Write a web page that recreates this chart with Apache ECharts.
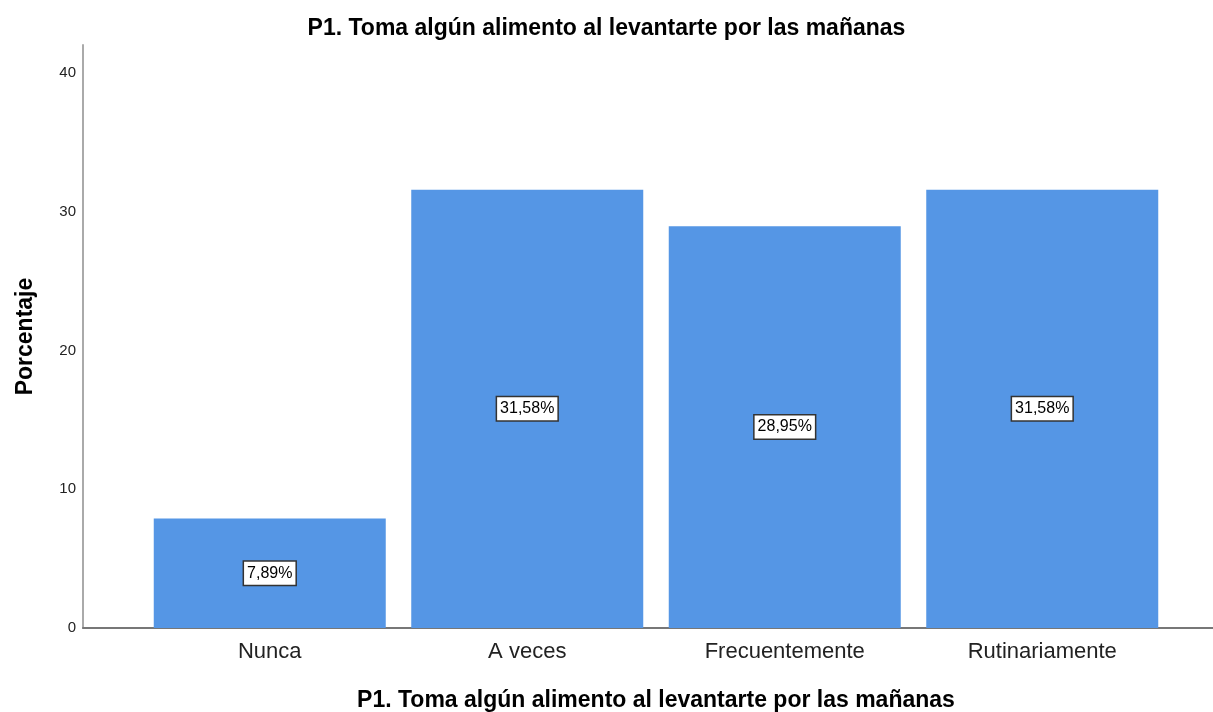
<!DOCTYPE html>
<html>
<head>
<meta charset="utf-8">
<style>
  html, body { margin: 0; padding: 0; background: #fff; }
  #chart { width: 1213px; height: 712px; }
</style>
<script src="https://cdn.jsdelivr.net/npm/echarts@6/dist/echarts.min.js"></script>
</head>
<body>
<div id="chart"></div>
<script>
// datos
var categorias = ['Nunca', 'A veces', 'Frecuentemente', 'Rutinariamente'];
var porcentajes = [7.89, 31.58, 28.95, 31.58];
var titulo = 'P1. Toma algún alimento al levantarte por las mañanas';

var fuente = '"Liberation Sans", Arial, sans-serif';
var myChart = echarts.init(document.getElementById('chart'));

myChart.setOption({
    animation: false,
    title: {
        text: titulo,
        left: 'center',
        top: 12,
        textStyle: { fontFamily: fuente, fontSize: 23, fontWeight: 'bold', color: '#000' }
    },
    // grid 0: barras, grid 1: lineas de ejes
    grid: [
        { left: 141, right: 42, top: 45, bottom: 84, outerBoundsMode: 'none', containLabel: false },
        { left: 83, right: 0, top: 45, bottom: 84, outerBoundsMode: 'none', containLabel: false }
    ],
    xAxis: [{
        type: 'category',
        gridIndex: 0,
        data: categorias,
        axisLine: { show: false },
        axisTick: { show: false },
        axisLabel: { fontFamily: fuente, fontSize: 22, color: '#222', margin: 13 }
    }, {
        type: 'value',
        gridIndex: 1,
        min: 0,
        max: 1,
        axisLine: { show: true, lineStyle: { color: '#777', width: 2 } },
        axisTick: { show: false },
        axisLabel: { show: false },
        splitLine: { show: false },
        name: titulo,
        nameLocation: 'middle',
        nameGap: 61,
        nameTextStyle: { fontFamily: fuente, fontSize: 23, fontWeight: 'bold', color: '#000', padding: [0, 0, 0, 16] }
    }],
    yAxis: [{
        type: 'value',
        gridIndex: 0,
        min: 0,
        max: 42,
        show: false
    }, {
        type: 'value',
        gridIndex: 1,
        min: 0,
        max: 42,
        interval: 10,
        axisLine: { show: true, lineStyle: { color: '#aaa', width: 2 } },
        axisTick: { show: false },
        splitLine: { show: false },
        axisLabel: {
            fontFamily: fuente, fontSize: 15, color: '#222', margin: 7,
            formatter: function (v) { return v % 10 === 0 ? v : ''; }
        },
        name: 'Porcentaje',
        nameLocation: 'middle',
        nameGap: 46,
        nameTextStyle: { fontFamily: fuente, fontSize: 23, fontWeight: 'bold', color: '#000' }
    }],
    series: [{
        type: 'bar',
        xAxisIndex: 0,
        yAxisIndex: 0,
        data: porcentajes,
        barWidth: 232,
        itemStyle: { color: '#5596e5' },
        label: {
            show: true,
            position: 'inside',
            fontFamily: fuente,
            fontSize: 16,
            color: '#000',
            backgroundColor: '#fff',
            borderColor: '#333',
            borderWidth: 1.5,
            padding: [4, 3, 3, 3],
            formatter: function (p) { return p.value.toFixed(2).replace('.', ',') + '%'; }
        }
    }]
});
</script>
</body>
</html>
